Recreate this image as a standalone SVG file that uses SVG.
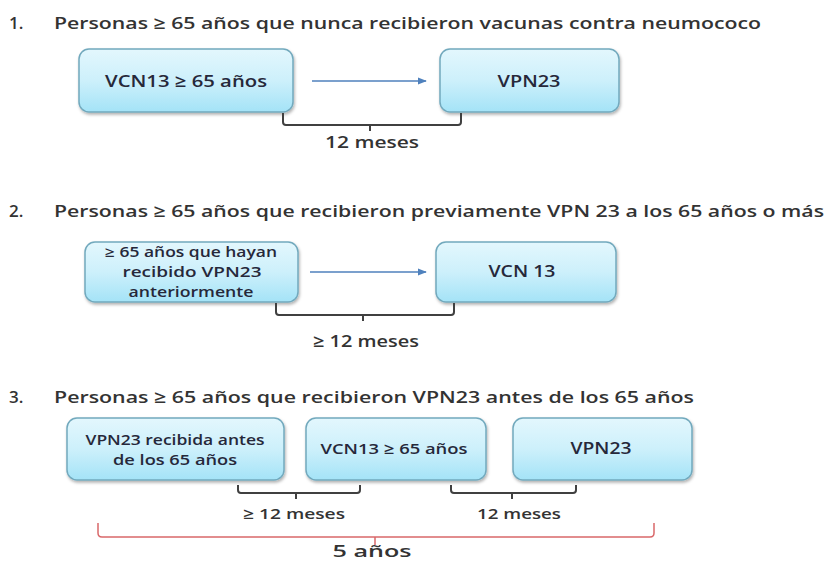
<svg xmlns="http://www.w3.org/2000/svg" width="828" height="565" viewBox="0 0 828 565">
<defs>
<linearGradient id="bg" x1="0" y1="0" x2="0" y2="1">
<stop offset="0" stop-color="#e3f7fd"/>
<stop offset="0.5" stop-color="#cdf0fb"/>
<stop offset="1" stop-color="#a4e3f7"/>
</linearGradient>
<filter id="sh" x="-10%" y="-10%" width="120%" height="130%">
<feDropShadow dx="1" dy="2" stdDeviation="1.5" flood-color="#000" flood-opacity="0.3"/>
</filter>
<marker id="ah" viewBox="0 0 10 10" refX="9" refY="5" markerWidth="6" markerHeight="6" orient="auto">
<path d="M0,1 L10,5 L0,9 z" fill="#4f81bd"/>
</marker>
<style>
.t{font-family:"Open Sans","Liberation Sans",sans-serif;fill:#333;font-size:17px;font-weight:600}
.b{font-family:"Open Sans","Liberation Sans",sans-serif;fill:#26283a;text-anchor:middle;font-weight:600}
.box{fill:url(#bg);stroke:#72a9bd;stroke-width:1.5;filter:url(#sh)}
.br{fill:none;stroke:#404040;stroke-width:2;stroke-linejoin:round}
.rb{fill:none;stroke:#d9686a;stroke-width:1.5;stroke-linejoin:round}
.ar{stroke:#4f81bd;stroke-width:1.5;marker-end:url(#ah)}
.lb{font-family:"Open Sans","Liberation Sans",sans-serif;fill:#333;text-anchor:middle;font-weight:600}
</style>
</defs>
<rect width="828" height="565" fill="#fff"/>

<g id="titles">
<text class="t" x="9" y="29">1.</text>
<text class="t" x="54" y="29" textLength="707" lengthAdjust="spacingAndGlyphs">Personas ≥ 65 años que nunca recibieron vacunas contra neumococo</text>
<text class="t" x="9" y="217">2.</text>
<text class="t" x="54" y="217" textLength="770" lengthAdjust="spacingAndGlyphs">Personas ≥ 65 años que recibieron previamente VPN 23 a los 65 años o más</text>
<text class="t" x="9" y="403">3.</text>
<text class="t" x="54" y="403" textLength="640" lengthAdjust="spacingAndGlyphs">Personas ≥ 65 años que recibieron VPN23 antes de  los 65 años</text>
</g>

<g id="n1">
<rect class="box" x="79" y="49" width="214" height="63" rx="10"/>
<text class="b" x="186" y="87" font-size="17" textLength="162" lengthAdjust="spacingAndGlyphs">VCN13 ≥ 65 años</text>
</g>
<g id="n2">
<rect class="box" x="440" y="49" width="179" height="63" rx="10"/>
<text class="b" x="529" y="87" font-size="17" textLength="63" lengthAdjust="spacingAndGlyphs">VPN23</text>
</g>
<g id="n3">
<rect class="box" x="85" y="242" width="213" height="60" rx="10"/>
<text class="b" x="191" y="257" font-size="14" textLength="172" lengthAdjust="spacingAndGlyphs">≥ 65 años que hayan</text>
<text class="b" x="192" y="277" font-size="14" textLength="139" lengthAdjust="spacingAndGlyphs">recibido VPN23</text>
<text class="b" x="191" y="297" font-size="14" textLength="125" lengthAdjust="spacingAndGlyphs">anteriormente</text>
</g>
<g id="n4">
<rect class="box" x="436" y="242" width="180" height="60" rx="10"/>
<text class="b" x="522" y="277" font-size="17" textLength="67" lengthAdjust="spacingAndGlyphs">VCN 13</text>
</g>
<g id="n5">
<rect class="box" x="67" y="418" width="217" height="62" rx="10"/>
<text class="b" x="175" y="445" font-size="15" textLength="179" lengthAdjust="spacingAndGlyphs">VPN23 recibida antes</text>
<text class="b" x="175" y="465" font-size="15" textLength="124" lengthAdjust="spacingAndGlyphs">de los 65 años</text>
</g>
<g id="n6">
<rect class="box" x="306" y="418" width="180" height="62" rx="10"/>
<text class="b" x="394" y="454" font-size="15" textLength="147" lengthAdjust="spacingAndGlyphs">VCN13 ≥ 65 años</text>
</g>
<g id="n7">
<rect class="box" x="513" y="418" width="179" height="62" rx="10"/>
<text class="b" x="601" y="454" font-size="16" textLength="61" lengthAdjust="spacingAndGlyphs">VPN23</text>
</g>

<g id="connectors">
<line class="ar" x1="312" y1="81" x2="426" y2="81"/>
<line class="ar" x1="310" y1="272" x2="426" y2="272"/>
<path class="br" d="M283,113 V122 Q283,125 286,125 H458 Q461,125 461,122 V113 M370,125 V131"/>
<path class="br" d="M276,303 V312 Q276,315 279,315 H451 Q454,315 454,312 V303 M363,315 V321"/>
<path class="br" d="M238,485 V490 Q238,493 241,493 H357 Q360,493 360,490 V485 M296,493 V499"/>
<path class="br" d="M451,485 V490 Q451,493 454,493 H573 Q576,493 576,490 V485 M512,493 V499"/>
<path class="rb" d="M98,523 V533 Q98,537 102,537 H650 Q654,537 654,533 V523 M375,537 V545"/>
</g>

<g id="labels">
<text class="lb" x="372" y="148" font-size="16" textLength="94" lengthAdjust="spacingAndGlyphs">12 meses</text>
<text class="lb" x="366" y="347" font-size="17" textLength="106" lengthAdjust="spacingAndGlyphs">≥ 12 meses</text>
<text class="lb" x="294" y="519" font-size="15" textLength="102" lengthAdjust="spacingAndGlyphs">≥ 12 meses</text>
<text class="lb" x="519" y="519" font-size="15" textLength="84" lengthAdjust="spacingAndGlyphs">12 meses</text>
<text class="lb" x="372" y="557" font-size="17" textLength="79" lengthAdjust="spacingAndGlyphs">5 años</text>
</g>
</svg>
